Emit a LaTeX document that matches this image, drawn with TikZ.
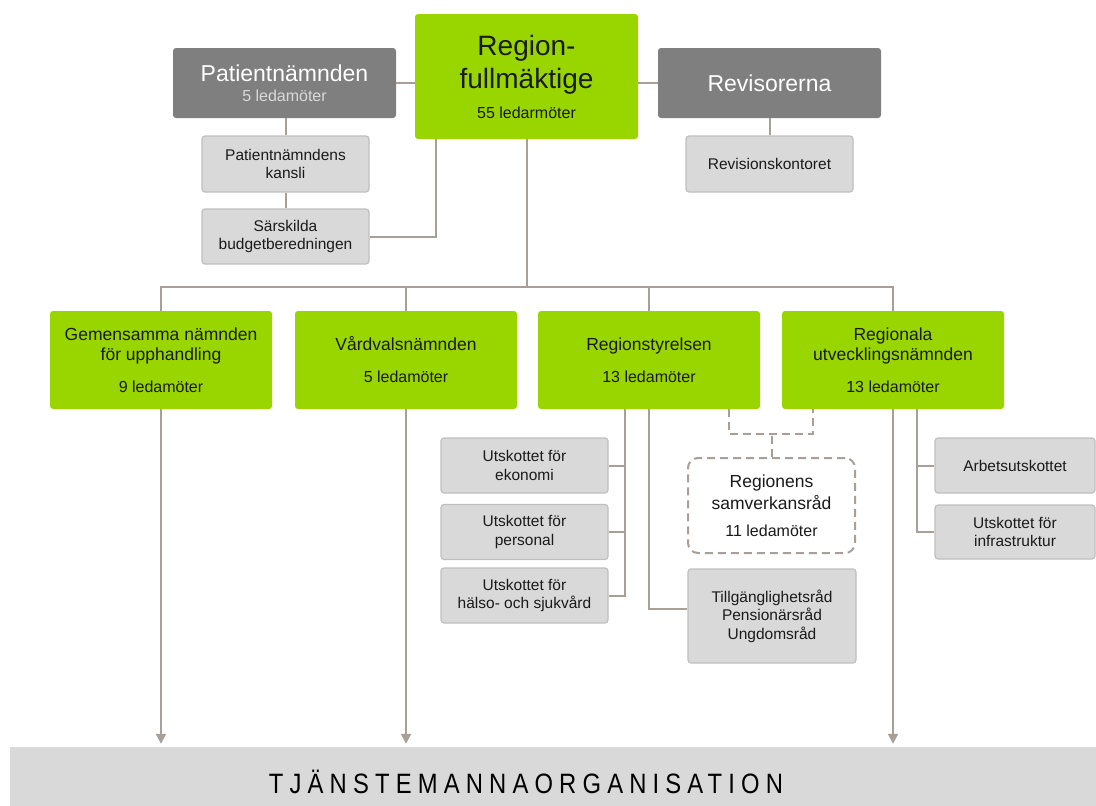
\documentclass[tikz,border=0pt]{standalone}
\usepackage{fontspec}
\setmainfont{Liberation Sans}
\newfontfamily\barfont[LetterSpace=22,FakeStretch=0.85]{Liberation Sans}
\usetikzlibrary{arrows.meta}
\definecolor{rfgreen}{RGB}{153,214,0}
\definecolor{rfdark}{RGB}{127,127,127}
\definecolor{rflight}{RGB}{217,217,217}
\definecolor{rfborder}{RGB}{191,191,191}
\definecolor{rfline}{RGB}{168,159,152}
\definecolor{rftext}{RGB}{26,26,26}

\begin{document}
\begin{tikzpicture}[x=1pt,y=-1pt,
	green node/.style={rectangle,rounded corners=3pt,fill=rfgreen,text=rftext,inner sep=0pt,align=center,minimum width=222pt,minimum height=98pt,font=\fontsize{17.5}{20}\selectfont},
	dark node/.style={rectangle,rounded corners=3pt,fill=rfdark,text=white,inner sep=0pt,align=center,minimum width=223pt,minimum height=70pt,font=\fontsize{23}{27}\selectfont},
	grey node/.style={rectangle,rounded corners=3pt,fill=rflight,draw=rfborder,line width=1.2pt,text=rftext,inner sep=0pt,align=center,minimum width=167pt,minimum height=55pt,font=\fontsize{15.5}{18.5}\selectfont},
	link/.style={draw=rfline,line width=2pt},
	soft link/.style={link,dash pattern=on 8pt off 5pt},
	down arrow/.style={link,-{Triangle[length=10pt,width=10pt]},shorten >=3pt}]
	\useasboundingbox (0,0) rectangle (1096,806);
	\draw
		(526.5,76.5) node[green node,minimum width=223pt,minimum height=125pt,font=\fontsize{28}{33}\selectfont](rf) {Region-\\fullmäktige\\[-3pt]{\fontsize{16}{19}\selectfont 55 ledarmöter}}
		(284.5,83) node[dark node](pn) {Patientnämnden\\[-7pt]{\fontsize{16}{19}\selectfont\color{rflight}5 ledamöter}}
		(769.5,83) node[dark node](rev) {Revisorerna}
		(285.5,164) node[grey node,minimum height=56pt](kansli) {Patientnämndens\\kansli}
		(285.5,236.5) node[grey node](budget) {Särskilda\\budgetberedningen}
		(769.5,164) node[grey node,minimum height=56pt](revk) {Revisionskontoret};
	\draw
		(161,360) node[green node](gem) {Gemensamma nämnden\\för upphandling\\[12pt]{\fontsize{16}{19}\selectfont 9 ledamöter}}
		(406,360) node[green node](vard) {Vårdvalsnämnden\\[12pt]{\fontsize{16}{19}\selectfont 5 ledamöter}}
		(649,360) node[green node](rs) {Regionstyrelsen\\[12pt]{\fontsize{16}{19}\selectfont 13 ledamöter}}
		(893,360) node[green node](run) {Regionala\\utvecklingsnämnden\\[12pt]{\fontsize{16}{19}\selectfont 13 ledamöter}};
	\draw
		(524.5,465.5) node[grey node](ueko) {Utskottet för\\ekonomi}
		(524.5,532) node[grey node](upers) {Utskottet för\\personal}
		(524.5,595.5) node[grey node](uhal) {Utskottet för\\hälso- och sjukvård}
		(772,616) node[grey node,minimum width=168pt,minimum height=94pt](tillg) {Tillgänglighetsråd\\Pensionärsråd\\Ungdomsråd}
		(1015,465.5) node[grey node,minimum width=160pt](arb) {Arbetsutskottet}
		(1015,532) node[grey node,minimum width=160pt,minimum height=54pt](infra) {Utskottet för\\infrastruktur};
	\node[rectangle,rounded corners=10pt,fill=white,draw=rfline,line width=2pt,dash pattern=on 8pt off 5pt,text=rftext,inner sep=0pt,align=center,minimum width=167pt,minimum height=95pt,font=\fontsize{17.5}{22}\selectfont] (samv) at (771.5,505.5) {Regionens\\samverkansråd\\[5pt]{\fontsize{16}{19}\selectfont 11 ledamöter}};
	\node[fill=rflight,minimum width=1086pt,minimum height=59pt,inner sep=0pt] (bar) at (553,776.5) {};
	\node[text=black,font=\barfont\fontsize{28}{32}\selectfont] (tj) at (526,782) {TJÄNSTEMANNAORGANISATION};
	\coordinate (bus) at (526.5,287);
	\draw[link] (pn.east) -- (pn.east -| rf.west);
	\draw[link] (rf.east |- rev.west) -- (rev.west);
	\draw[link] (kansli.north |- pn.south) -- (kansli.north);
	\draw[link] (kansli.south) -- (budget.north);
	\draw[link] (budget.east) -| ([xshift=21pt]rf.south west);
	\draw[link] (revk.north |- rev.south) -- (revk.north);
	\draw[link] (rf.south) -- (bus);
	\draw[link] (gem.north) |- (bus) -| (run.north);
	\draw[link] (vard.north) -- (vard.north |- bus);
	\draw[link] (rs.north) -- (rs.north |- bus);
	\draw[link] ([xshift=-24pt]rs.south) |- (uhal.east);
	\draw[link] (ueko.east) -- ++(17,0);
	\draw[link] (upers.east) -- ++(17,0);
	\draw[link] (rs.south) |- ([yshift=7pt]tillg.west);
	\draw[soft link] ([xshift=80pt]rs.south) -- ++(0,25) -| ([xshift=-80pt]run.south);
	\draw[soft link] (samv.north) -- ++(0,-24);
	\draw[link] ([xshift=24pt]run.south) |- (infra.west);
	\draw[link] (arb.west) -- ++(-18,0);
	\draw[down arrow] (gem.south) -- (gem.south |- bar.north);
	\draw[down arrow] (vard.south) -- (vard.south |- bar.north);
	\draw[down arrow] (run.south) -- (run.south |- bar.north);
\end{tikzpicture}
\end{document}
